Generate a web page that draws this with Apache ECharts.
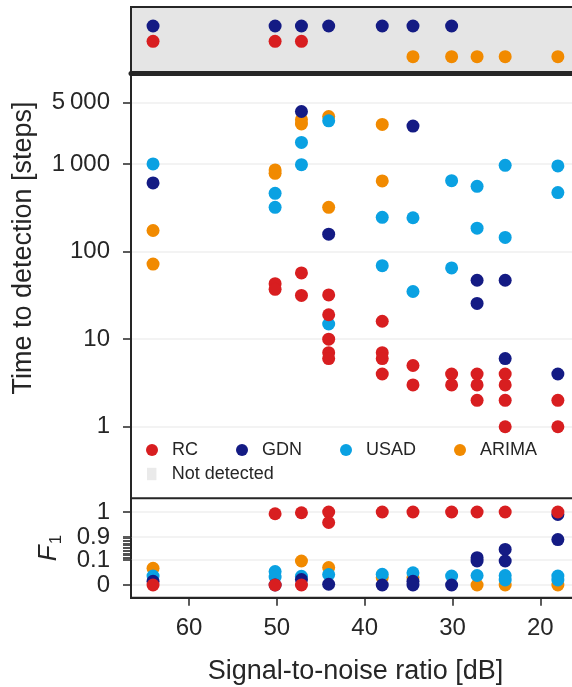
<!DOCTYPE html>
<html>
<head>
<meta charset="utf-8">
<script src="https://cdn.jsdelivr.net/npm/echarts@6/dist/echarts.min.js"></script>
<style>
html, body { margin: 0; padding: 0; background: #fff; overflow: hidden; }
#main { width: 580px; height: 687px; }
</style>
</head>
<body>
<div id="main"></div>
<script>
var FONT = 'Liberation Sans, Arial, sans-serif';
var INK = '#262626';

var methods = ['RC', 'GDN', 'USAD', 'ARIMA'];
var colors = { RC: '#d81e20', GDN: '#141b84', USAD: '#0aa1e2', ARIMA: '#f18a00' };
var xTicks = [20, 30, 40, 50, 60];
var ttdTicks = [1, 10, 100, 1000, 5000];
var f1Ticks = [0, 0.1, 0.9, 1];
var f1Hatch = [0.15, 0.2, 0.25, 0.3, 0.35, 0.4, 0.45, 0.5, 0.55, 0.6, 0.65, 0.7, 0.75, 0.8, 0.85];

// time to detection [steps]: [SNR dB, steps]
var ttdRC = [[50.2, 43], [50.2, 37], [47.2, 57], [47.2, 31.6], [44.1, 32], [44.1, 19], [44.1, 10], [44.1, 7], [44.1, 6],
    [38.0, 16], [38.0, 7], [38.0, 6], [38.0, 4], [34.5, 5], [34.5, 3], [30.1, 4], [30.1, 3],
    [27.2, 4], [27.2, 3], [27.2, 2], [24.0, 4], [24.0, 3], [24.0, 2], [24.0, 1], [18.0, 2], [18.0, 1]];
var ttdGDN = [[64.1, 607], [47.2, 3970], [44.1, 158], [34.5, 2710], [27.2, 47], [27.2, 25.6], [24.0, 47], [24.0, 6], [18.0, 4]];
var ttdUSAD = [[64.1, 1000], [50.2, 462], [50.2, 320], [47.2, 1762], [47.2, 982], [44.1, 3110], [44.1, 14.9],
    [38.0, 246], [38.0, 69], [34.5, 243], [34.5, 35], [30.1, 645], [30.1, 65], [27.2, 556], [27.2, 185],
    [24.0, 964], [24.0, 145], [18.0, 950], [18.0, 471]];
var ttdARIMA = [[64.1, 174], [64.1, 72], [50.2, 855], [50.2, 782], [47.2, 3200], [47.2, 2860], [44.1, 3480], [44.1, 320],
    [38.0, 2830], [38.0, 640]];

// SNR values where nothing was detected
var notDetRC = [64.1, 50.2, 47.2];
var notDetGDN = [64.1, 50.2, 47.2, 44.1, 38.0, 34.5, 30.1];
var notDetUSAD = [];
var notDetARIMA = [34.5, 30.1, 27.2, 24.0, 18.0];
var bandRow = { RC: 2, GDN: 3, USAD: 2.5, ARIMA: 1 };

// F1 score: [SNR dB, F1]
var f1RC = [[64.1, 0], [50.2, 0.993], [50.2, 0], [47.2, 0.997], [47.2, 0], [44.1, 1], [44.1, 0.958], [38.0, 1],
    [34.5, 1], [30.1, 1], [27.2, 1], [24.0, 1], [18.0, 1]];
var f1GDN = [[64.1, 0.015], [50.2, 0], [47.2, 0.022], [44.1, 0.003], [38.0, 0], [34.5, 0.015], [34.5, 0], [30.1, 0],
    [27.2, 0.18], [27.2, 0.096], [24.0, 0.467], [24.0, 0.096], [18.0, 0.99], [18.0, 0.81]];
var f1USAD = [[64.1, 0.036], [50.2, 0.054], [50.2, 0.032], [47.2, 0.035], [44.1, 0.042], [38.0, 0.043], [34.5, 0.049],
    [30.1, 0.036], [27.2, 0.038], [24.0, 0.038], [24.0, 0.02], [18.0, 0.036], [18.0, 0.02]];
var f1ARIMA = [[64.1, 0.067], [47.2, 0.096], [44.1, 0.07], [38.0, 0.03], [34.5, 0.03], [27.2, 0], [24.0, 0], [18.0, 0]];

var ttd = { RC: ttdRC, GDN: ttdGDN, USAD: ttdUSAD, ARIMA: ttdARIMA };
var notDet = { RC: notDetRC, GDN: notDetGDN, USAD: notDetUSAD, ARIMA: notDetARIMA };
var f1 = { RC: f1RC, GDN: f1GDN, USAD: f1USAD, ARIMA: f1ARIMA };

var snrMin = 15.48, snrMax = 66.61;
var f1Break = [{ start: 0.1, end: 0.9, gap: 0.092 }];

function xAxisFor(grid, extra) {
    var ax = {
        type: 'value', gridIndex: grid, min: snrMin, max: snrMax, inverse: true,
        axisLine: { show: false }, axisTick: { show: false }, axisLabel: { show: false }, splitLine: { show: false }
    };
    for (var k in extra) ax[k] = extra[k];
    return ax;
}

var series = [];
['ARIMA', 'USAD', 'GDN', 'RC'].forEach(function (m) {
    var base = { name: m, type: 'scatter', symbolSize: 13, itemStyle: { color: colors[m], opacity: 1 } };
    series.push(Object.assign({}, base, {
        xAxisIndex: 0, yAxisIndex: 0,
        data: notDet[m].map(function (s) { return [s, bandRow[m]]; })
    }));
    series.push(Object.assign({}, base, { xAxisIndex: 1, yAxisIndex: 1, data: ttd[m] }));
    series.push(Object.assign({}, base, { xAxisIndex: 2, yAxisIndex: 2, data: f1[m] }));
});
series.push({ name: 'Not detected', type: 'scatter', xAxisIndex: 0, yAxisIndex: 0, data: [], itemStyle: { color: '#e5e5e5' } });

var myChart = echarts.init(document.getElementById('main'));
var option = {
    backgroundColor: '#fff',
    animation: false,
    textStyle: { fontFamily: FONT, color: INK },
    grid: [
        { left: 131, right: 0, top: 7, height: 66.3, show: true, backgroundColor: '#e5e5e5', borderColor: INK, borderWidth: 2 },
        { left: 131, right: 0, top: 73.3, height: 425 },
        { left: 131, right: 0, top: 498.3, height: 99.4, show: true, borderColor: INK, borderWidth: 2 }
    ],
    xAxis: [
        xAxisFor(0, { axisLine: { show: true, onZero: false, lineStyle: { color: INK, width: 5 } } }),
        xAxisFor(1, {}),
        xAxisFor(2, {
            axisLine: { show: true, onZero: false, lineStyle: { color: INK, width: 2 } },
            axisTick: { show: true, length: 8, customValues: xTicks, lineStyle: { color: INK, width: 1.5 } },
            axisLabel: { show: true, customValues: xTicks, fontSize: 24, margin: 19, color: INK, fontFamily: FONT },
            name: 'Signal-to-noise ratio [dB]', nameLocation: 'middle', nameGap: 60,
            nameTextStyle: { fontSize: 27, color: INK, fontFamily: FONT }
        })
    ],
    yAxis: [
        { type: 'value', gridIndex: 0, min: -0.081, max: 4.238, show: false },
        {
            type: 'log', gridIndex: 1, logBase: 10, min: 0.1524, max: 10840,
            axisLine: { show: true, lineStyle: { color: INK, width: 2 } },
            axisTick: { show: true, length: 8, customValues: ttdTicks, lineStyle: { color: INK, width: 1.5 } },
            axisLabel: {
                customValues: ttdTicks, fontSize: 24, margin: 21, color: INK, fontFamily: FONT,
                formatter: function (v) { return v >= 1000 ? String(v).replace(/(\d)(\d{3})$/, '$1\u2009$2') : String(v); }
            },
            splitLine: { show: true, lineStyle: { color: '#efefef', width: 1.5 } }
        },
        {
            type: 'value', gridIndex: 2, position: 'left', min: -0.0508, max: 1.0548,
            breaks: f1Break, breakArea: { show: false },
            axisLine: { show: true, lineStyle: { color: INK, width: 2 } },
            axisTick: { show: true, length: 8, customValues: f1Ticks, lineStyle: { color: INK, width: 1.5 } },
            axisLabel: { customValues: f1Ticks, fontSize: 24, margin: 21, color: INK, fontFamily: FONT },
            splitLine: { show: true, lineStyle: { color: '#efefef', width: 1.5 } },
            name: '{f|F}{s|1}', nameLocation: 'middle', nameRotate: 90, nameGap: 66,
            nameTextStyle: {
                rich: {
                    f: { fontSize: 26, fontStyle: 'italic', fontFamily: FONT, color: INK },
                    s: { fontSize: 17, fontFamily: FONT, color: INK, padding: [16, 0, 0, 1] }
                }
            }
        },
        {
            type: 'value', gridIndex: 2, position: 'left', offset: 0, min: -0.0508, max: 1.0548,
            breaks: f1Break, breakArea: { show: false },
            axisLine: { show: false },
            axisTick: { show: true, length: 8, customValues: f1Hatch, lineStyle: { color: INK, width: 0.8 } },
            axisLabel: { show: false }, splitLine: { show: false }
        }
    ],
    legend: [
        {
            data: methods, left: 141, top: 436, icon: 'circle', itemWidth: 30, itemHeight: 12, itemGap: 38,
            selectedMode: false, textStyle: { fontSize: 18, color: INK, fontFamily: FONT }
        },
        {
            data: [{ name: 'Not detected', icon: 'path://M0,0H94V123H0Z' }], left: 142, top: 460,
            itemWidth: 30, itemHeight: 12.3, selectedMode: false,
            textStyle: { fontSize: 18, color: INK, fontFamily: FONT }
        }
    ],
    graphic: [{
        type: 'text', x: 24, y: 248, rotation: Math.PI / 2,
        style: {
            text: 'Time to detection [steps]', fontSize: 27, fontFamily: FONT, fill: INK,
            align: 'center', verticalAlign: 'middle', textAlign: 'center', textVerticalAlign: 'middle'
        }
    }],
    series: series
};
myChart.setOption(option);
</script>
</body>
</html>
